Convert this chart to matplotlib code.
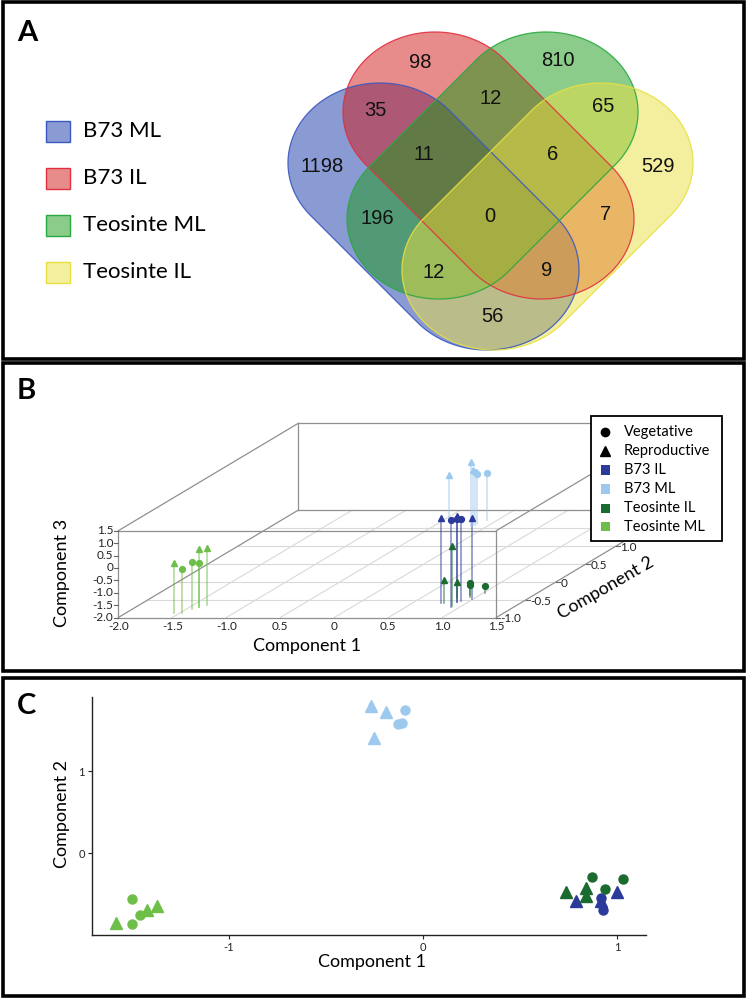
import numpy as np
import matplotlib.pyplot as plt
from matplotlib.patches import Rectangle, Polygon
from matplotlib.colors import to_rgb

plt.rcParams["axes.unicode_minus"] = False
plt.rcParams["font.family"] = ["Lato", "DejaVu Sans"]

W, H = 747, 1000

# ---------------- data ----------------
# Panel A: Venn diagram
venn_sets = ["B73 ML", "B73 IL", "Teosinte ML", "Teosinte IL"]
venn_counts = [1198, 98, 810, 529, 35, 12, 65, 196, 11, 6, 0, 7, 12, 9, 56]

# Panel B: 3D PCA (component 1, 2, 3)
b73il_stage = ["R", "V", "R", "V", "V", "R"]
b73il_c1 = [0.77, 0.91, 0.89, 0.90, 0.92, 0.99]
b73il_c2 = [-0.60, -0.70, -0.56, -0.57, -0.55, -0.49]
b73il_c3 = [1.44, 1.48, 1.46, 1.37, 1.31, 1.29]

b73ml_stage = ["R", "R", "R", "V", "V", "V"]
b73ml_c1 = [-0.50, -0.16, -0.15, -0.13, -0.13, -0.10]
b73ml_c2 = [1.82, 1.56, 1.58, 1.58, 1.61, 1.72]
b73ml_c3 = [-0.32, 0.57, 0.22, 0.15, 0.02, -0.08]

teoil_stage = ["R", "R", "R", "V", "V", "V"]
teoil_c1 = [0.79, 0.91, 0.84, 0.93, 0.91, 1.01]
teoil_c2 = [-0.60, -0.68, -0.46, -0.42, -0.37, -0.31]
teoil_c3 = [-1.06, 0.42, -1.35, -1.54, -1.52, -1.73]

teoml_stage = ["R", "V", "V", "V", "R", "R"]
teoml_c1 = [-1.56, -1.48, -1.45, -1.41, -1.41, -1.37]
teoml_c2 = [-0.87, -0.88, -0.76, -0.72, -0.72, -0.66]
teoml_c3 = [-0.01, -0.23, -0.12, -0.21, 0.36, 0.32]

b_c1_ticks = [-2.0, -1.5, -1.0, -0.5, 0, 0.5, 1.0, 1.5]
b_c1_labels = ["-2.0", "-1.5", "-1.0", "0.5", "0", "0.5", "1.0", "1.5"]
b_c3_ticks = [1.5, 1.0, 0.5, 0, -0.5, -1.0, -1.5, -2.0]
b_c3_labels = ["1.5", "1.0", "0.5", "0", "-0.5", "-1.0", "-1.5", "-2.0"]
b_c2_ticks = [-1.0, -0.5, 0, 0.5, 1.0]
b_c2_labels = ["-1.0", "-0.5", "0", "0.5", "1.0"]

# Panel C: 2D PCA (component 1, 2)
c_b73il_stage = ["R", "R", "R", "V", "V"]
c_b73il_x = [0.79, 0.92, 1.00, 0.92, 0.93]
c_b73il_y = [-0.59, -0.58, -0.47, -0.55, -0.70]

c_b73ml_stage = ["R", "R", "R", "V", "V", "V"]
c_b73ml_x = [-0.27, -0.19, -0.25, -0.09, -0.13, -0.11]
c_b73ml_y = [1.80, 1.73, 1.41, 1.75, 1.58, 1.59]

c_teoil_stage = ["V", "V", "V", "R", "R", "R"]
c_teoil_x = [0.87, 1.03, 0.94, 0.74, 0.84, 0.84]
c_teoil_y = [-0.29, -0.31, -0.44, -0.47, -0.43, -0.52]

c_teoml_stage = ["V", "V", "V", "R", "R", "R"]
c_teoml_x = [-1.50, -1.50, -1.46, -1.58, -1.42, -1.37]
c_teoml_y = [-0.56, -0.87, -0.76, -0.85, -0.69, -0.64]

group_names = ["B73 IL", "B73 ML", "Teosinte IL", "Teosinte ML"]
group_colors = ["#2c3a9c", "#9ec9ee", "#1b6a30", "#6dbf49"]

# ---------------- figure ----------------
fig = plt.figure(figsize=(W / 100, H / 100), dpi=100)
canvas = fig.add_axes([0, 0, 1, 1])
canvas.set_xlim(0, W)
canvas.set_ylim(H, 0)
canvas.axis("off")

# panel frames
for y0, y1 in [(2, 358.5), (362.5, 670.5), (677.5, 995.5)]:
    canvas.add_patch(Rectangle((2.5, y0), 741.5, y1 - y0, fill=False, ec="black", lw=2.6))
for lab, yc in [("A", 33), ("B", 391), ("C", 706)]:
    canvas.text(17, yc, lab, fontsize=21, fontweight="bold", ha="left", va="center")


# ---------------- Panel A: Venn ----------------
def capsule(c1, c2, rx, ry, n=400):
    # segment c1-c2 swept by an axis-aligned ellipse
    c1, c2 = np.asarray(c1, float), np.asarray(c2, float)
    t = np.linspace(0, 2 * np.pi, n, endpoint=False)
    e = np.column_stack([rx * np.cos(t), ry * np.sin(t)])
    nrm = np.column_stack([np.cos(t) / rx, np.sin(t) / ry])
    side = (nrm @ (c2 - c1)) > 0
    return np.where(side[:, None], c2 + e, c1 + e)


venn_fill = ["#1737a9", "#d11919", "#199b19", "#ebe141"]
venn_edge = ["#3a58c0", "#e03040", "#2aa840", "#e8e040"]
venn_shapes = [((380, 163), (487, 270)), ((435, 112), (542, 219)),
               ((546, 112), (439, 219)), ((601, 163), (494, 270))]
RX, RY = 92, 80
for (p1, p2), fc in zip(venn_shapes, venn_fill):
    canvas.add_patch(Polygon(capsule(p1, p2, RX, RY), closed=True,
                             fc=to_rgb(fc) + (0.5,), ec="none"))
for (p1, p2), ec in zip(venn_shapes, venn_edge):
    canvas.add_patch(Polygon(capsule(p1, p2, RX, RY), closed=True, fill=False,
                             ec=ec, lw=0.9, alpha=0.9))

venn_label_pos = [(322, 167), (420, 62), (558, 60), (658, 166), (375, 110), (491, 98),
                  (603, 106), (377, 219), (424, 154), (553, 155), (490, 217), (606, 215),
                  (434, 272), (547, 270), (492, 317)]
for n, (x, y) in zip(venn_counts, venn_label_pos):
    canvas.text(x, y, str(n), fontsize=14.5, family="Liberation Sans", color="#111111",
                ha="center", va="center")

# legend A
leg_rows = [131, 178, 225, 272]
for name, fc, ec, y in zip(venn_sets, venn_fill, venn_edge, leg_rows):
    canvas.add_patch(Rectangle((46, y - 10.5), 24, 21, fc=to_rgb(fc) + (0.5,), ec=ec, lw=1))
    canvas.text(83, y, name, fontsize=16, ha="left", va="center")

# ---------------- Panel B: oblique 3D scatter ----------------
X0, Y0, KX, KZ = 118.3, 617.5, 108.0, 24.8
C1MIN, C1MAX, C2MIN, C2MAX, C3MIN, C3MAX = -2.0, 1.5, -1.0, 2.0, -2.0, 1.5
OX, OZ = 60.0 / KX, 35.8 / KZ
bx0, bx1, by0, by1 = 100, 700, 400, 640
axb = fig.add_axes([bx0 / W, 1 - by1 / H, (bx1 - bx0) / W, (by1 - by0) / H])
axb.set_xlim(C1MIN + (bx0 - X0) / KX, C1MIN + (bx1 - X0) / KX)
axb.set_ylim(C3MIN - (by1 - Y0) / KZ, C3MIN + (Y0 - by0) / KZ)
axb.axis("off")
axb.patch.set_alpha(0)


def proj(c1, c2, c3):
    c1, c2, c3 = np.asarray(c1, float), np.asarray(c2, float), np.asarray(c3, float)
    return c1 + OX * (c2 - C2MIN), c3 + OZ * (c2 - C2MIN)


def seg(p, q, **kw):
    x, y = proj([p[0], q[0]], [p[1], q[1]], [p[2], q[2]])
    axb.plot(x, y, clip_on=False, **kw)


grid_kw = dict(color="#d9d9d9", lw=0.8, zorder=1)
for c2 in [-0.5, 0, 0.5, 1.0, 1.5]:
    seg((C1MIN, c2, C3MIN), (C1MAX, c2, C3MIN), **grid_kw)
for c1 in [-1.5, -1.0, -0.5, 0, 0.5, 1.0]:
    seg((c1, C2MIN, C3MIN), (c1, C2MAX, C3MIN), **grid_kw)

box_kw = dict(color="#8f8f8f", lw=0.9, zorder=2)
for c2 in [C2MIN, C2MAX]:
    seg((C1MIN, c2, C3MIN), (C1MAX, c2, C3MIN), **box_kw)
    seg((C1MIN, c2, C3MAX), (C1MAX, c2, C3MAX), **box_kw)
    seg((C1MIN, c2, C3MIN), (C1MIN, c2, C3MAX), **box_kw)
    seg((C1MAX, c2, C3MIN), (C1MAX, c2, C3MAX), **box_kw)
for c1 in [C1MIN, C1MAX]:
    for c3 in [C3MIN, C3MAX]:
        seg((c1, C2MIN, c3), (c1, C2MAX, c3), **box_kw)

groups3d = [(b73il_c1, b73il_c2, b73il_c3, b73il_stage),
            (b73ml_c1, b73ml_c2, b73ml_c3, b73ml_stage),
            (teoil_c1, teoil_c2, teoil_c3, teoil_stage),
            (teoml_c1, teoml_c2, teoml_c3, teoml_stage)]
for (c1s, c2s, c3s, st), col in zip(groups3d, group_colors):
    for c1, c2, c3, s in zip(c1s, c2s, c3s, st):
        seg((c1, c2, C3MIN), (c1, c2, c3), color=col, lw=1.2, alpha=0.55, zorder=3)
    for c1, c2, c3, s in zip(c1s, c2s, c3s, st):
        x, y = proj(c1, c2, c3)
        axb.plot(x, y, marker="^" if s == "R" else "o", ms=4.6 if s == "R" else 4.2,
                 color=col, ls="none", clip_on=False, zorder=4)

px = 1.0 / KX
pz = 1.0 / KZ
tick_fs = 8.5
for v, lab in zip(b_c1_ticks, b_c1_labels):
    x, y = proj(v, C2MIN, C3MIN)
    axb.text(x, y - 9 * pz, lab, fontsize=tick_fs, ha="center", va="center", color="#222222")
for v, lab in zip(b_c3_ticks, b_c3_labels):
    x, y = proj(C1MIN, C2MIN, v)
    axb.plot([x - 4 * px, x], [y, y], color="#666666", lw=0.8, clip_on=False)
    axb.text(x - 5 * px, y, lab, fontsize=tick_fs, ha="right", va="center", color="#222222")
for v, lab in zip(b_c2_ticks, b_c2_labels):
    x, y = proj(C1MAX, v, C3MIN)
    axb.plot([x, x + 4 * px], [y, y], color="#666666", lw=0.8, clip_on=False)
    axb.text(x + 4 * px, y - 1.5 * pz, lab, fontsize=tick_fs, ha="left", va="center",
             color="#222222")

canvas.text(306.7, 646.5, "Component 1", fontsize=13, ha="center", va="center")
canvas.text(62.5, 573, "Component 3", fontsize=13, ha="center", va="center", rotation=90)
canvas.text(606, 588, "Component 2", fontsize=13, ha="center", va="center", rotation=30)

# legend B (on top)
top = fig.add_axes([0, 0, 1, 1], zorder=10)
top.set_xlim(0, W)
top.set_ylim(H, 0)
top.axis("off")
top.patch.set_alpha(0)
top.add_patch(Rectangle((591, 416), 131, 124.5, fc="white", ec="black", lw=1.3))
leg_y = [431.7, 450.7, 470, 489, 508.3, 526.7]
top.plot(605, leg_y[0], marker="o", ms=6, color="black")
top.plot(605, leg_y[1], marker="^", ms=7, color="black")
for yy, col in zip(leg_y[2:], group_colors):
    top.add_patch(Rectangle((600.5, yy - 4.7), 9, 9.4, fc=col, ec="none"))
for yy, lab in zip(leg_y, ["Vegetative", "Reproductive"] + group_names):
    top.text(624, yy, lab, fontsize=10.5, ha="left", va="center")

# ---------------- Panel C: 2D scatter ----------------
cx0, cx1, cy0, cy1 = 92, 646, 697, 935
axc = fig.add_axes([cx0 / W, 1 - cy1 / H, (cx1 - cx0) / W, (cy1 - cy0) / H])
axc.set_xlim(-1.706, 1.15)
axc.set_ylim(-1.0, 1.91)
groups2d = [(c_b73il_x, c_b73il_y, c_b73il_stage), (c_b73ml_x, c_b73ml_y, c_b73ml_stage),
            (c_teoil_x, c_teoil_y, c_teoil_stage), (c_teoml_x, c_teoml_y, c_teoml_stage)]
for (xs, ys, st), col in zip(groups2d, group_colors):
    for x, y, s in zip(xs, ys, st):
        axc.plot(x, y, marker="^" if s == "R" else "o", ms=8 if s == "R" else 6.5,
                 color=col, ls="none", clip_on=False)
for sp in ["top", "right"]:
    axc.spines[sp].set_visible(False)
for sp in ["left", "bottom"]:
    axc.spines[sp].set_linewidth(1.0)
    axc.spines[sp].set_color("#222222")
axc.set_xticks([-1, 0, 1])
axc.set_yticks([0, 1])
axc.tick_params(length=3, width=0.8, labelsize=8, pad=2, colors="#222222")
axc.patch.set_alpha(0)
canvas.text(372, 962, "Component 1", fontsize=13, ha="center", va="center")
canvas.text(62, 814, "Component 2", fontsize=13, ha="center", va="center", rotation=90)

fig.savefig("out.png", dpi=100)
